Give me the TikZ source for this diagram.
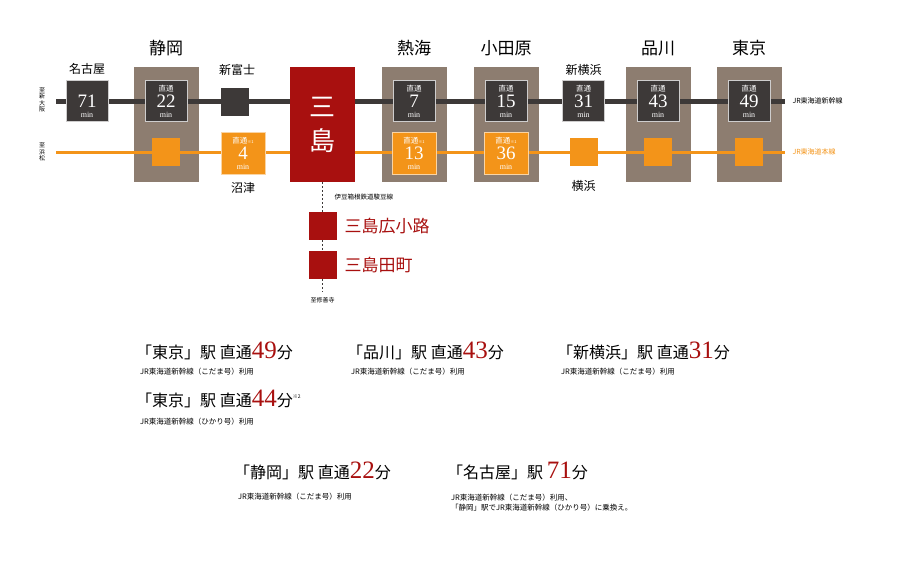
\documentclass[tikz,border=0pt]{standalone}
\usepackage{fontspec}
\setmainfont{Liberation Serif}
\newfontfamily\jp{Noto Sans CJK JP}
\definecolor{dk}{HTML}{3D3938}
\definecolor{tan}{HTML}{8D7D70}
\definecolor{org}{HTML}{F39419}
\definecolor{rd}{HTML}{A8100F}
\tikzset{
 tanbox/.style={fill=tan,draw=none,minimum width=65pt,minimum height=115pt,inner sep=0},
 dkbox/.style={fill=dk,draw=white!75!dk,line width=0.8pt,minimum width=42pt,minimum height=41pt,inner sep=0},
 orbox/.style={fill=org,draw=white!60!org,line width=0.8pt,minimum width=44pt,minimum height=42pt,inner sep=0},
 dksq/.style={fill=dk,minimum size=28pt,inner sep=0},
 orsq/.style={fill=org,minimum size=28pt,inner sep=0},
 rdsq/.style={fill=rd,minimum size=28pt,inner sep=0},
 lbl/.style={text=white,inner sep=0,font=\jp\fontsize{7.5}{8}\selectfont},
 num/.style={text=white,inner sep=0,font=\fontsize{19}{19}\selectfont},
 mn/.style={text=white,inner sep=0,font=\fontsize{8}{8}\selectfont},
 stl/.style={font=\jp\fontsize{12}{12}\selectfont},
 big/.style={font=\jp\fontsize{17}{17}\selectfont},
 tiny/.style={font=\jp\fontsize{7}{8}\selectfont},
 hd/.style={font=\jp\fontsize{16}{16}\selectfont,anchor=west,inner sep=0},
 sub/.style={font=\jp\fontsize{7.5}{10}\selectfont,anchor=west,inner sep=0,align=left},
}
\newcommand{\tbox}[5]{%
 \node[#2] (#1) at (#3) {};
 \node[lbl] at ([yshift=12pt]#1.center) {#4};
 \node[num] at ([yshift=0pt]#1.center) {#5};
 \node[mn] at ([yshift=-13.5pt]#1.center) {min};}
\newcommand{\rn}[1]{\textcolor{rd}{\rmfamily\fontsize{25}{25}\selectfont #1}}
\begin{document}
\begin{tikzpicture}[x=1pt,y=-1pt]
\useasboundingbox (0,0) rectangle (898,571);
\node[tanbox] (tsz) at (166.5,124.5) {};
\node[tanbox] (tat) at (414.5,124.5) {};
\node[tanbox] (tod) at (506.5,124.5) {};
\node[tanbox] (tsg) at (658.5,124.5) {};
\node[tanbox] (ttk) at (749.5,124.5) {};
\coordinate (bl) at (56,101); \coordinate (br) at (785,101);
\coordinate (ol) at (56,152); \coordinate (or) at (785,152);
\draw[dk,line width=5pt] (bl) -- (br);
\draw[org,line width=3pt] (ol) -- (or);
\node[fill=rd,minimum width=65pt,minimum height=115pt,inner sep=0,text=white,font=\jp\fontsize{26}{34}\selectfont,align=center] (ms) at (322.5,124.5) {三\\島};
\tbox{ngy}{dkbox}{87,101}{}{71}
\tbox{szk}{dkbox}{166,101}{直通}{22}
\node[dksq] (sfj) at (235,101.5) {};
\tbox{atm}{dkbox}{414,101}{直通}{7}
\tbox{odw}{dkbox}{506,101}{直通}{15}
\tbox{syk}{dkbox}{583.5,101}{直通}{31}
\tbox{sgw}{dkbox}{658,101}{直通}{43}
\tbox{tky}{dkbox}{749,101}{直通}{49}
\node[orsq] (szo) at (166,152) {};
\tbox{nmz}{orbox}{243,153}{直通{\fontsize{4}{4}\selectfont ※1}}{4}
\tbox{ato}{orbox}{414,153}{直通{\fontsize{4}{4}\selectfont ※1}}{13}
\tbox{odo}{orbox}{506,153}{直通{\fontsize{4}{4}\selectfont ※1}}{36}
\node[orsq] (ykh) at (583.5,152) {};
\node[orsq] (sgo) at (658,152) {};
\node[orsq] (tko) at (749,152) {};
\node[big] at (166,48) {静岡};
\node[big] at (414,48) {熱海};
\node[big] at (506,48) {小田原};
\node[big] at (658,48) {品川};
\node[big] at (749,48) {東京};
\node[stl] at (87,69) {名古屋};
\node[stl] at (237,70) {新富士};
\node[stl] at (583.5,70) {新横浜};
\node[stl] at (243,188) {沼津};
\node[stl] at (583.5,186) {横浜};
\node[tiny,anchor=west] at (789,101) {JR東海道新幹線};
\node[tiny,anchor=west,text=org] at (789,152) {JR東海道本線};
\node[align=center,font=\jp\fontsize{6}{6.5}\selectfont] at (42,100) {至\\新\\大\\阪};
\node[align=center,font=\jp\fontsize{6}{6.5}\selectfont] at (42,152) {至\\浜\\松};
\node[rdsq] (hkj) at (322.5,226) {};
\node[rdsq] (tmc) at (322.5,265) {};
\coordinate (szj) at (322.5,292);
\draw[dk,dash pattern=on 2pt off 2pt,line width=1.2pt] (ms.south) -- (hkj) -- (tmc) -- (szj);
\node[anchor=west,font=\jp\fontsize{6.5}{7}\selectfont] at (331,197) {伊豆箱根鉄道駿豆線};
\node[anchor=west,text=rd,font=\jp\fontsize{17}{17}\selectfont] at (341,226) {三島広小路};
\node[anchor=west,text=rd,font=\jp\fontsize{17}{17}\selectfont] at (341,265) {三島田町};
\node[font=\jp\fontsize{6}{6}\selectfont] at (322.5,300) {至修善寺};
\node[hd] (a1) at (136,351) {「東京」駅 直通\rn{49}分};
\node[sub] at (140,372) {JR東海道新幹線（こだま号）利用};
\node[hd] (a2) at (136,399) {「東京」駅 直通\rn{44}分{\fontsize{5}{5}\selectfont\raisebox{8pt}{※2}}};
\node[sub] at (140,422) {JR東海道新幹線（ひかり号）利用};
\node[hd] (b1) at (347,351) {「品川」駅 直通\rn{43}分};
\node[sub] at (351,372) {JR東海道新幹線（こだま号）利用};
\node[hd] (c1) at (557,351) {「新横浜」駅 直通\rn{31}分};
\node[sub] at (561,372) {JR東海道新幹線（こだま号）利用};
\node[hd] (d1) at (234,471) {「静岡」駅 直通\rn{22}分};
\node[sub] at (238,497) {JR東海道新幹線（こだま号）利用};
\node[hd] (e1) at (447,471) {「名古屋」駅 \rn{71}分};
\node[sub] at (451,503) {JR東海道新幹線（こだま号）利用、\\「静岡」駅でJR東海道新幹線（ひかり号）に乗換え。};
\end{tikzpicture}
\end{document}
